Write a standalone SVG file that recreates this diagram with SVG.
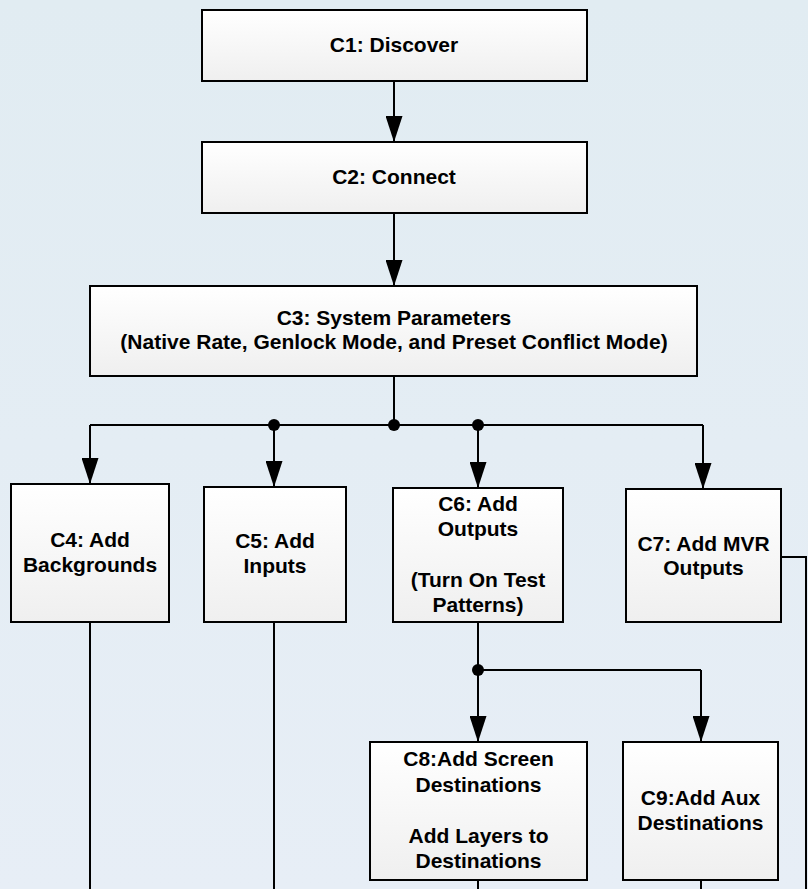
<svg xmlns="http://www.w3.org/2000/svg" width="808" height="889" viewBox="0 0 808 889">
<defs>
<linearGradient id="bg" x1="0" y1="0" x2="0" y2="1">
<stop offset="0" stop-color="#E1ECF2"/>
<stop offset="1" stop-color="#E7EEF6"/>
</linearGradient>
<linearGradient id="box" x1="0" y1="0" x2="0" y2="1">
<stop offset="0" stop-color="#FFFFFF"/>
<stop offset="1" stop-color="#EFEFEF"/>
</linearGradient>
<marker id="arr" viewBox="0 0 26 17" refX="26" refY="8.5" markerWidth="26" markerHeight="17" markerUnits="userSpaceOnUse" orient="auto">
<path d="M0,0 L26,8.5 L0,17 Z" fill="#000"/>
</marker>
</defs>
<style>
.node rect{fill:url(#box);stroke:#000;stroke-width:2}
.node text{font-family:"Liberation Sans",Arial,sans-serif;font-weight:bold;font-size:21px;fill:#000;text-anchor:middle}
#connectors path{fill:none;stroke:#000;stroke-width:2}
#connectors .a{marker-end:url(#arr)}
#connectors circle{fill:#000}
</style>
<rect x="0" y="0" width="808" height="889" fill="url(#bg)"/>
<g id="connectors">
<path class="a" d="M394,81 V142"/>
<path class="a" d="M394,213 V286"/>
<path d="M394,376 V425"/>
<path d="M90,425 H703"/>
<path class="a" d="M90,425 V484"/>
<path class="a" d="M274,425 V487"/>
<path class="a" d="M478,425 V488"/>
<path class="a" d="M703,425 V489"/>
<path d="M90,622 V889"/>
<path d="M274,622 V889"/>
<path d="M478,622 V670"/>
<path d="M478,670 H701"/>
<path class="a" d="M478,670 V742"/>
<path class="a" d="M701,670 V742"/>
<path d="M781,557 H806 V889"/>
<path d="M478,880 V889"/>
<path d="M701,880 V889"/>
<circle cx="274" cy="425" r="6"/>
<circle cx="394" cy="425" r="6"/>
<circle cx="478" cy="425" r="6"/>
<circle cx="478" cy="670" r="6"/>
</g>
<g id="C1" class="node">
<rect x="202" y="10" width="385" height="71"/>
<text x="394" y="52">C1: Discover</text>
</g>
<g id="C2" class="node">
<rect x="202" y="142" width="385" height="71"/>
<text x="394" y="184">C2: Connect</text>
</g>
<g id="C3" class="node">
<rect x="90" y="286" width="607" height="90"/>
<text x="394" y="325">C3: System Parameters</text>
<text x="394" y="349">(Native Rate, Genlock Mode, and Preset Conflict Mode)</text>
</g>
<g id="C4" class="node">
<rect x="11" y="484" width="158" height="138"/>
<text x="90" y="547">C4: Add</text>
<text x="90" y="572">Backgrounds</text>
</g>
<g id="C5" class="node">
<rect x="204" y="487" width="142" height="135"/>
<text x="275" y="548">C5: Add</text>
<text x="275" y="573">Inputs</text>
</g>
<g id="C6" class="node">
<rect x="393" y="488" width="170" height="134"/>
<text x="478" y="511">C6: Add</text>
<text x="478" y="536">Outputs</text>
<text x="478" y="587">(Turn On Test</text>
<text x="478" y="612">Patterns)</text>
</g>
<g id="C7" class="node">
<rect x="626" y="489" width="155" height="133"/>
<text x="703.5" y="551">C7: Add MVR</text>
<text x="703.5" y="575">Outputs</text>
</g>
<g id="C8" class="node">
<rect x="370" y="742" width="217" height="138"/>
<text x="478.5" y="766">C8:Add Screen</text>
<text x="478.5" y="792">Destinations</text>
<text x="478.5" y="843">Add Layers to</text>
<text x="478.5" y="868">Destinations</text>
</g>
<g id="C9" class="node">
<rect x="623" y="742" width="155" height="138"/>
<text x="700.5" y="805">C9:Add Aux</text>
<text x="700.5" y="830">Destinations</text>
</g>
</svg>
